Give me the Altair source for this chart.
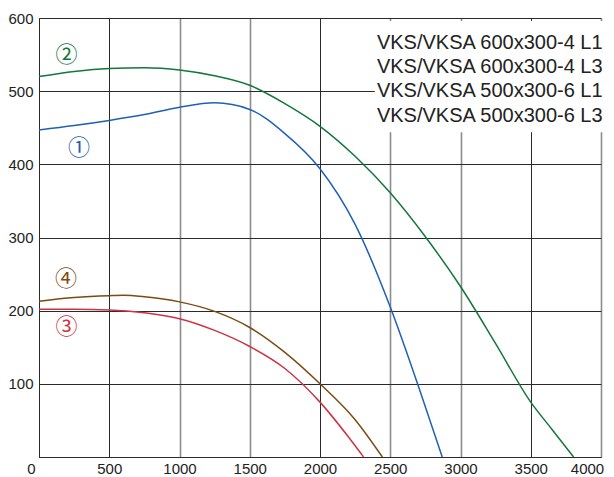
import altair as alt
import pandas as pd

# ---- data ----
blue_x = [0, 250, 500, 750, 1000, 1250, 1500, 1750, 2000, 2250, 2500, 2700, 2870]
blue_y = [447, 453, 460, 468, 478, 484, 475, 442, 394, 318, 205, 97, 0]

green_x = [0, 250, 500, 750, 1000, 1250, 1500, 1750, 2000, 2250, 2500, 2750, 3000, 3250, 3500, 3650, 3805]
green_y = [520, 527, 531, 532, 529, 521, 508, 483, 452, 411, 361, 301, 233, 155, 75, 38, 0]

red_x = [0, 250, 500, 750, 1000, 1250, 1500, 1750, 2000, 2200, 2310]
red_y = [202, 202, 201, 197, 189, 173, 151, 121, 75, 28, 0]

brown_x = [0, 250, 500, 600, 750, 1000, 1250, 1500, 1750, 2000, 2250, 2444]
brown_y = [213, 218, 220.5, 221, 219, 212, 199, 177, 143, 100, 51, 0]

series_names = ["1", "2", "3", "4"]
series_colors = ["#1f60b8", "#13773b", "#cc3344", "#7b4b12"]

marker_text = ["①", "②", "③", "④"]
marker_x = [285, 196, 196, 192]
marker_y = [423, 550, 178, 243]

legend_lines = ["VKS/VKSA 600x300-4 L1", "VKS/VKSA 600x300-4 L3",
                "VKS/VKSA 500x300-6 L1", "VKS/VKSA 500x300-6 L3"]
legend_x = [2405, 2405, 2405, 2405]
legend_y = [558, 525, 491.5, 457.5]

box_x = [2390]
box_x2 = [4400]
box_y = [596]
box_y2 = [444]

x_ticks = [0, 500, 1000, 1500, 2000, 2500, 3000, 3500, 4000]
y_ticks = [0, 100, 200, 300, 400, 500, 600]

# ---- tables ----
rows = []
for name, xs, ys in [("1", blue_x, blue_y), ("2", green_x, green_y),
                     ("3", red_x, red_y), ("4", brown_x, brown_y)]:
    for i, (a, b) in enumerate(zip(xs, ys)):
        rows.append({"s": name, "x": a, "y": b, "o": i})
curves = pd.DataFrame(rows)
markers = pd.DataFrame({"t": marker_text, "x": marker_x, "y": marker_y, "s": series_names})
legend = pd.DataFrame({"t": legend_lines, "x": legend_x, "y": legend_y})
box = pd.DataFrame({"x": box_x, "x2": box_x2, "y": box_y, "y2": box_y2})

xscale = alt.Scale(domain=[0, 4000], nice=False, zero=False)
yscale = alt.Scale(domain=[0, 600], nice=False, zero=False)
cscale = alt.Scale(domain=series_names, range=series_colors)

light = "indexof([1000,1500,2500,3000,4000], datum.value) >= 0"

xaxis = alt.Axis(
    values=x_ticks, title=None, grid=True, ticks=False, domain=True, format="d",
    domainColor="#2a2a2a", labelFont="Liberation Sans", labelFontSize=15,
    labelColor="#222222", labelPadding=4, labelFlush=False, labelOverlap=False,
    labelOffset={"condition": [{"test": "datum.value == 0", "value": -8},
                               {"test": "datum.value == 4000", "value": -14}],
                 "value": 0},
    gridColor={"condition": {"test": light, "value": "#8c8c8c"}, "value": "#2a2a2a"},
    gridWidth={"condition": {"test": light, "value": 1.6}, "value": 1},
    gridOpacity=1, zindex=0,
)
yaxis = alt.Axis(
    values=y_ticks, title=None, grid=True, ticks=False, domain=True,
    domainColor="#2a2a2a", labelFont="Liberation Sans", labelFontSize=15,
    labelColor="#222222", labelPadding=6,
    labelExpr="datum.value == 0 ? '' : datum.label",
    gridColor="#2a2a2a", gridWidth=1, gridOpacity=1, zindex=0,
)

lines = alt.Chart(curves).mark_line(strokeWidth=1.5, interpolate="monotone").encode(
    x=alt.X("x:Q", scale=xscale, axis=xaxis),
    y=alt.Y("y:Q", scale=yscale, axis=yaxis),
    color=alt.Color("s:N", scale=cscale, legend=None),
    detail="s:N",
    order="o:Q",
)

rect = alt.Chart(box).mark_rect(fill="white", opacity=1, clip=False).encode(
    x=alt.X("x:Q", scale=xscale), x2="x2:Q",
    y=alt.Y("y:Q", scale=yscale), y2="y2:Q",
)

legend_text = alt.Chart(legend).mark_text(
    align="left", baseline="alphabetic", font="Liberation Sans", fontSize=20,
    color="#222222", clip=False,
).encode(x=alt.X("x:Q", scale=xscale), y=alt.Y("y:Q", scale=yscale), text="t:N")

marker_marks = alt.Chart(markers).mark_text(
    align="center", baseline="middle", font="Noto Sans CJK JP", fontSize=22,
).encode(
    x=alt.X("x:Q", scale=xscale), y=alt.Y("y:Q", scale=yscale), text="t:N",
    color=alt.Color("s:N", scale=cscale, legend=None),
)

chart = alt.layer(lines, rect, legend_text, marker_marks).properties(
    width=562, height=439,
    autosize=alt.AutoSizeParams(type="none"),
    padding={"left": 31, "top": 10, "right": 5, "bottom": 18},
).configure_view(stroke="#2a2a2a", strokeWidth=1).configure(background="white")

chart.save("out.html", embed_options={"renderer": "svg", "actions": False})
